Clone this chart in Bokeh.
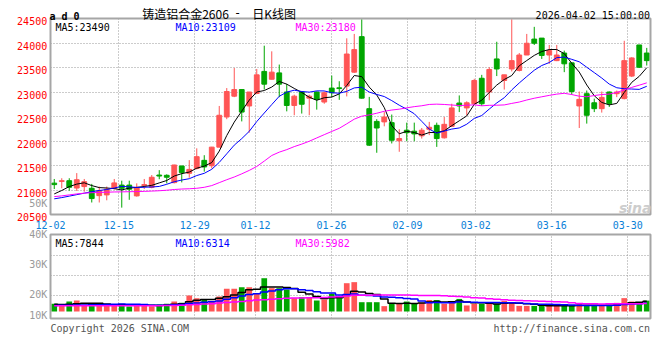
import pandas as pd
from bokeh.plotting import figure
from bokeh.models import ColumnDataSource, Range1d, Label, BoxAnnotation, Grid, FixedTicker
from bokeh.embed import file_html
from bokeh.resources import INLINE

# ---------------- data ----------------
dates = ["12-02", "12-03", "12-04", "12-05", "12-08", "12-09", "12-10", "12-11", "12-12", "12-15",
         "12-16", "12-17", "12-18", "12-19", "12-22", "12-23", "12-24", "12-25", "12-26", "12-29",
         "12-30", "12-31", "01-05", "01-06", "01-07", "01-08", "01-09", "01-12", "01-13", "01-14",
         "01-15", "01-16", "01-19", "01-20", "01-21", "01-22", "01-23", "01-26", "01-27", "01-28",
         "01-29", "01-30", "02-02", "02-03", "02-04", "02-05", "02-06", "02-09", "02-10", "02-11",
         "02-12", "02-13", "02-24", "02-25", "02-26", "02-27", "03-02", "03-03", "03-04", "03-05",
         "03-06", "03-09", "03-10", "03-11", "03-12", "03-13", "03-16", "03-17", "03-18", "03-19",
         "03-20", "03-23", "03-24", "03-25", "03-26", "03-27", "03-30", "03-31", "04-01", "04-02"]

opens = [21140, 21175, 21190, 21040, 21070, 21035, 20885, 20900, 21035, 21100,
         21100, 20880, 21090, 21055, 21305, 21300, 21150, 21490, 21340, 21440,
         21605, 21495, 21875, 22490, 22915, 23050, 22715, 22970, 23420, 23260,
         23390, 23000, 22725, 23000, 22875, 23000, 22795, 23080, 23085, 23120,
         23405, 24130, 22660, 22400, 22390, 22375, 22005, 22220, 22200, 22105,
         22240, 22320, 22065, 22300, 22775, 22675, 22760, 23280, 23000, 23675,
         23235, 23470, 23440, 23755, 24080, 24100, 23755, 23640, 23795, 23595,
         22715, 22965, 22780, 22660, 23000, 22965, 22865, 23325, 23960, 23795]
highs = [21225, 21240, 21240, 21345, 21225, 21125, 21070, 21070, 21225, 21190,
         21190, 21135, 21225, 21305, 21405, 21320, 21515, 21495, 21610, 21850,
         21710, 21880, 22715, 23080, 23490, 23050, 23000, 23470, 23945, 23830,
         23560, 23165, 22945, 23010, 22945, 23010, 23010, 23335, 23220, 24095,
         24185, 24485, 22900, 22445, 22590, 22540, 22240, 22375, 22375, 22265,
         22390, 22375, 22490, 22760, 22930, 22810, 23270, 23350, 23505, 24025,
         23350, 24485, 23795, 24185, 24330, 24100, 23960, 23960, 23845, 23595,
         23010, 23030, 22865, 23010, 23010, 23030, 24045, 23710, 23960, 23900]
lows = [21020, 21035, 20985, 20980, 20965, 20745, 20745, 20790, 21010, 20640,
        20800, 20865, 21020, 21035, 21220, 21135, 21135, 21155, 21250, 21420,
        21375, 21440, 21875, 22445, 22895, 22400, 22170, 22955, 23050, 23255,
        22895, 22605, 22525, 22560, 22525, 22640, 22760, 22895, 22840, 22910,
        23390, 22865, 21900, 21760, 22300, 21950, 21780, 21995, 21995, 22050,
        22120, 21880, 22050, 22285, 22590, 22525, 22740, 22715, 22830, 23325,
        23050, 23420, 23420, 23755, 23960, 23675, 23575, 23630, 23405, 22945,
        22265, 22355, 22590, 22580, 22695, 22895, 22850, 23305, 23490, 23540]
closes = [21110, 21190, 21055, 21210, 21170, 20825, 20985, 21015, 21145, 21035,
          21015, 21055, 21110, 21260, 21285, 21260, 21510, 21355, 21420, 21680,
          21470, 21875, 22525, 23010, 23050, 22590, 23000, 23350, 23160, 23405,
          23160, 22725, 22915, 22750, 22915, 22850, 22985, 22985, 23070, 23775,
          23865, 22875, 21915, 22265, 22490, 22015, 22050, 22170, 22145, 22220,
          22280, 22050, 22340, 22675, 22715, 22780, 23235, 22760, 23460, 23470,
          23350, 23640, 23755, 23995, 23995, 23745, 23845, 23755, 23575, 23010,
          22850, 22525, 22660, 22890, 22760, 23000, 23640, 23695, 23505, 23640]
volumes = [5900, 4600, 7600, 8400, 5100, 5900, 4600, 4600, 4600, 5900,
           3800, 5300, 4600, 4000, 5300, 5900, 7600, 6600, 12200, 10200,
           9200, 7900, 11500, 17300, 17300, 18600, 18600, 13500, 25400, 17800,
           17800, 16800, 10200, 10900, 10900, 8400, 9200, 13500, 10200, 21600,
           22400, 7100, 7100, 7100, 4100, 5900, 6400, 7600, 6400, 6600,
           8800, 8800, 5900, 7100, 9600, 4600, 5900, 5900, 5900, 5900,
           8100, 7100, 4300, 4300, 4300, 4300, 4300, 4300, 4300, 4300,
           6000, 5000, 4300, 4300, 4300, 6600, 10200, 7600, 6600, 8300]

# moving-average values at the left edge (they need days before the window)
ma5_head = [20920, 20990, 21070, 21120]
ma10_head = [20820, 20845, 20875, 20905, 20935, 20965, 20990, 21010, 21040]
ma30_head = [20865, 20880, 20900, 20920, 20935, 20945, 20950, 20955, 20960, 20962,
             20965, 20968, 20972, 20978, 20985, 20995, 21010, 21020, 21025, 21035,
             21055, 21090, 21150, 21210, 21265, 21330, 21400, 21480, 21590]
vma5_head = [5500, 5400, 5600, 6000]
vma10_head = [4600, 4700, 4800, 4900, 5000, 5100, 5200, 5300, 5500]
vma30_head = [4300, 4300, 4300, 4300, 4300, 4300, 4300, 4300, 4300, 4300,
              4300, 4300, 4300, 4300, 4400, 4500, 4600, 4800, 5100, 5400,
              5700, 6000, 6400, 6800, 7200, 7700, 8200, 8700, 9000]

price_ticks = [20500, 21000, 21500, 22000, 22500, 23000, 23500, 24000, 24500]
date_ticks = ["12-02", "12-15", "12-29", "01-12", "01-26", "02-09", "03-02", "03-16", "03-30"]
vol_tick_labels = ["50K", "40K", "30K", "20K", "10K"]
code_text = "a d 0"
title_name = "铸造铝合金2606"
title_dash = "-"
title_kind = "日K线图"
stamp_text = "2026-04-02 15:00:00"
price_ma_labels = ["MA5:23490", "MA10:23109", "MA30:23180"]
vol_ma_labels = ["MA5:7844", "MA10:6314", "MA30:5982"]
copyright_text = "Copyright 2026 SINA.COM"
url_text = "http://finance.sina.com.cn"

# ---------------- layout / styling (page pixels) ----------------
W, H = 656, 352
PANE_L, PANE_R = 50, 650           # both panes, columns
P_TOP, P_BOT = 18, 214             # price pane rows
V_TOP, V_BOT, V_BASE = 234, 318, 311   # volume pane rows, bar base row
VOL_PX_PER_LOT = 1.31 / 1000
vol_grid_rows = [255, 275, 295]
vol_label_baselines = [203.3, 233.6, 264.1, 294.1, 315.0]

RED = "#ff5555"
GREEN = "#00a600"
MA_COLORS = ["#000000", "#0000ff", "#ff00ff"]
GRID = "#999999"
GRID_DASH = "1 2"
BORDER = "#a6a6a6"
MONO = "DejaVu Sans Mono"
CJK = "Noto Sans CJK SC"

N = len(dates)
PX_PER_DAY = (PANE_R - PANE_L) / N
PRICE_PER_PX = (price_ticks[-1] - price_ticks[0]) / (P_BOT - P_TOP)


def moving_average(vals, n, head):
    s = pd.Series(vals, dtype=float).rolling(n).mean().to_numpy()
    s[:n - 1] = head
    return s


def vol_at(row):
    return (V_BASE - row) / VOL_PX_PER_LOT


xs = [i + 0.5 for i in range(N)]
colors = [RED if c >= o else GREEN for o, c in zip(opens, closes)]
src = ColumnDataSource(dict(
    x=xs, high=highs, low=lows,
    top=[max(o, c) for o, c in zip(opens, closes)],
    bottom=[min(o, c) for o, c in zip(opens, closes)],
    color=colors, vol=volumes,
    ma5=moving_average(closes, 5, ma5_head),
    ma10=moving_average(closes, 10, ma10_head),
    ma30=moving_average(closes, 30, ma30_head),
    vma5=moving_average(volumes, 5, vma5_head),
    vma10=moving_average(volumes, 10, vma10_head),
    vma30=moving_average(volumes, 30, vma30_head),
))

# date grid positions (the chart spreads its date grid over N-1 steps)
tick_x = [dates.index(d) * N / (N - 1) for d in date_ticks]

p = figure(width=W, height=H,
           x_range=Range1d(-PANE_L / PX_PER_DAY, (W - PANE_L) / PX_PER_DAY),
           y_range=Range1d(price_ticks[0] - (H - P_BOT) * PRICE_PER_PX,
                           price_ticks[-1] + P_TOP * PRICE_PER_PX),
           x_axis_type=None, y_axis_type=None, min_border=0,
           output_backend="svg", toolbar_location=None, tools="", title=None)
p.extra_y_ranges = {"vol": Range1d(vol_at(H), vol_at(0))}
p.outline_line_color = None
p.background_fill_color = "white"
p.border_fill_color = "white"

v_bot, v_top = vol_at(V_BOT), vol_at(V_TOP)


# dotted grid lines, limited to each pane
def add_grid(dim, ticks, cross, range_name="default"):
    try:
        g = Grid(dimension=dim, ticker=FixedTicker(ticks=ticks), cross_bounds=cross,
                 y_range_name=range_name, grid_line_color=GRID, grid_line_dash=GRID_DASH,
                 grid_line_width=1)
        p.add_layout(g)
    except Exception:
        n = len(ticks)
        if dim == 1:
            p.segment(x0=[cross[0]] * n, x1=[cross[1]] * n, y0=ticks, y1=ticks, y_range_name=range_name,
                      line_color=GRID, line_dash=GRID_DASH, line_width=1)
        else:
            p.segment(x0=ticks, x1=ticks, y0=[cross[0]] * n, y1=[cross[1]] * n, y_range_name=range_name,
                      line_color=GRID, line_dash=GRID_DASH, line_width=1)


add_grid(1, price_ticks[1:-1], (0, N))
add_grid(0, tick_x[1:], (price_ticks[0], price_ticks[-1]))
add_grid(1, [vol_at(r) for r in vol_grid_rows], (0, N), "vol")
add_grid(0, tick_x[1:], (v_bot, v_top), "vol")

# candles
BODY_W = 0.64
p.segment(x0="x", y0="low", x1="x", y1="high", line_color="color", line_width=1, source=src)
p.vbar(x="x", width=BODY_W, top="top", bottom="bottom", fill_color="color",
       line_color="color", line_width=1, source=src)
for col, c in zip(["ma5", "ma10", "ma30"], MA_COLORS):
    p.line("x", col, line_color=c, line_width=1, source=src)

# volume
p.vbar(x="x", width=0.76, top="vol", bottom=0, fill_color="color", line_color=None,
       source=src, y_range_name="vol")
for col, c in zip(["vma5", "vma10", "vma30"], MA_COLORS):
    p.step("x", col, mode="center", line_color=c, line_width=1.5, source=src, y_range_name="vol")

# pane borders
p.add_layout(BoxAnnotation(left=0, right=N, bottom=price_ticks[0], top=price_ticks[-1],
                           fill_alpha=0, line_color=BORDER, line_alpha=1, line_width=2))
p.add_layout(BoxAnnotation(left=0, right=N, bottom=v_bot, top=v_top, y_range_name="vol",
                           fill_alpha=0, line_color=BORDER, line_alpha=1, line_width=2))


def put(text, px, py, align="left", color="#000000", size="10px", font=MONO, style="normal"):
    """text whose alphabetic baseline starts at page pixel (px, py)"""
    p.add_layout(Label(x=0, y=price_ticks[-1], x_offset=px - PANE_L, y_offset=P_TOP - py,
                       text=text, text_align=align, text_baseline="alphabetic", text_color=color,
                       text_font_size=size, text_font=font, text_font_style=style))


# axis tick labels
for t in price_ticks:
    p.add_layout(Label(x=0, y=t, x_offset=-3.3, y_offset=-2.6, text=str(t), text_align="right",
                       text_baseline="alphabetic", text_color="#ff0000",
                       text_font_size="10px", text_font=MONO))
for tx, d in zip(tick_x, date_ticks):
    p.add_layout(Label(x=tx, y=price_ticks[0], y_offset=-10, text=d, text_align="center",
                       text_baseline="alphabetic", text_color="#0a7fd8",
                       text_font_size="10px", text_font=MONO))
for txt, row in zip(vol_tick_labels, vol_label_baselines):
    put(txt, 46.7, row, align="right", color="#999999")

# header and legends
put(code_text, 49, 16, style="bold")
put(title_name, 141.7, 12.8, size="12px", font=CJK)
put(title_dash, 233.5, 11.5, size="12px", font=MONO)
put(title_kind, 251.7, 12.8, size="12px", font=CJK)
put(stamp_text, 649.5, 15.3, align="right")
for k, (txt, c) in enumerate(zip(price_ma_labels, MA_COLORS)):
    put(txt, 55 + 120 * k, 27, color=c)
for k, (txt, c) in enumerate(zip(vol_ma_labels, MA_COLORS)):
    put(txt, 55 + 120 * k, 242.5, color=c)
put("sina", 651, 207, align="right", size="14px", font="DejaVu Sans", style="bold italic", color="#cdcdcd")
put(copyright_text, 50, 327.5, color="#555555")
put(url_text, 649.5, 327.5, align="right", color="#555555")

open("out.html", "w").write(file_html(p, INLINE))
